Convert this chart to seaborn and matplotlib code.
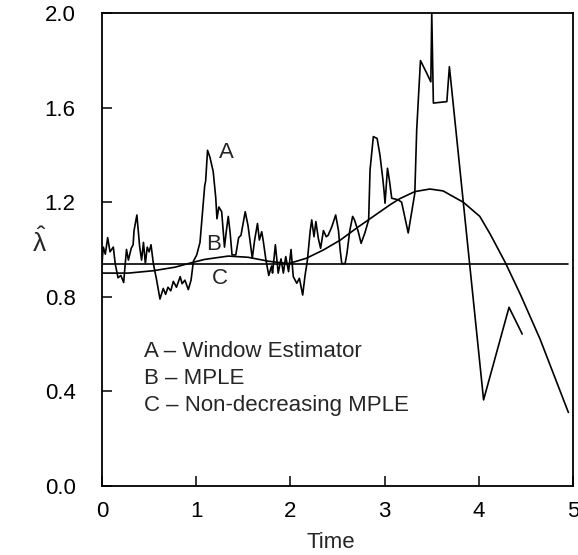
import pandas as pd
import matplotlib
matplotlib.use("Agg")
import matplotlib.pyplot as plt
import seaborn as sns

# A - window estimator
window_time = [
    0.0, 0.005, 0.014, 0.035, 0.06, 0.085, 0.12, 0.14, 0.17, 0.20, 0.23, 0.24,
    0.26, 0.28, 0.31, 0.33, 0.34, 0.37, 0.385, 0.40, 0.42, 0.44, 0.46, 0.48,
    0.50, 0.52, 0.545, 0.58, 0.615, 0.65, 0.675, 0.70, 0.73, 0.757, 0.79, 0.83,
    0.85, 0.88, 0.916, 0.945, 0.97, 1.005, 1.04, 1.075, 1.09, 1.10, 1.12, 1.146,
    1.18, 1.207, 1.22, 1.24, 1.27, 1.30, 1.32, 1.34, 1.36, 1.38, 1.42, 1.45,
    1.475, 1.52, 1.55, 1.57, 1.595, 1.62, 1.65, 1.67, 1.695, 1.71, 1.74, 1.77,
    1.80, 1.81, 1.84, 1.87, 1.90, 1.925, 1.95, 1.98, 2.006, 2.03, 2.067, 2.095,
    2.13, 2.155, 2.18, 2.21, 2.226, 2.25, 2.27, 2.296, 2.32, 2.35, 2.38, 2.40,
    2.44, 2.48, 2.51, 2.527, 2.545, 2.58, 2.60, 2.63, 2.66, 2.68, 2.72, 2.75,
    2.79, 2.83, 2.845, 2.88, 2.92, 2.95, 2.98, 2.994, 3.004, 3.03, 3.05, 3.075,
    3.145, 3.18, 3.25, 3.32, 3.34, 3.38, 3.447, 3.49, 3.50, 3.51, 3.517, 3.66,
    3.687, 4.05, 4.32, 4.46,
]
window_rate = [
    0.93, 0.97, 1.01, 0.98, 1.05, 0.99, 1.01, 0.94, 0.88, 0.89, 0.86, 0.91,
    1.00, 0.955, 1.005, 1.02, 1.08, 1.146, 1.08, 1.01, 0.955, 1.03, 0.94, 1.01,
    0.99, 1.02, 0.94, 0.87, 0.79, 0.835, 0.81, 0.84, 0.825, 0.865, 0.84, 0.885,
    0.855, 0.87, 0.83, 0.87, 0.95, 0.977, 1.03, 1.20, 1.27, 1.29, 1.42, 1.39,
    1.33, 1.22, 1.13, 1.18, 1.16, 1.01, 1.08, 1.14, 1.07, 0.977, 0.977, 1.05,
    1.06, 1.16, 1.10, 1.04, 0.963, 1.04, 1.11, 1.04, 1.075, 1.04, 0.955, 0.89,
    0.93, 0.90, 1.02, 0.90, 0.96, 0.90, 0.97, 0.906, 1.00, 0.885, 0.857, 0.878,
    0.807, 0.89, 0.955, 1.08, 1.125, 1.054, 1.118, 1.047, 1.005, 1.08, 1.054, 1.06,
    1.097, 1.146, 1.08, 1.00, 0.94, 0.94, 0.984, 1.08, 1.14, 1.125, 1.075, 1.026,
    1.07, 1.125, 1.337, 1.478, 1.47, 1.40, 1.30, 1.245, 1.196, 1.344, 1.294, 1.217,
    1.21, 1.20, 1.07, 1.238, 1.506, 1.80, 1.746, 1.71, 2.0, 1.78, 1.62, 1.626,
    1.774, 0.363, 0.755, 0.642,
]

# B - MPLE
mple_time = [
    0.0, 0.28, 0.545, 0.775, 0.95, 1.09, 1.34, 1.55, 1.77, 1.98, 2.17, 2.35,
    2.53, 2.70, 2.88, 3.06, 3.16, 3.32, 3.48, 3.62, 3.835, 4.01, 4.12, 4.22,
    4.28, 4.44, 4.65, 4.95,
]
mple_rate = [
    0.90, 0.90, 0.91, 0.925, 0.944, 0.958, 0.972, 0.967, 0.95, 0.94, 0.963, 0.998,
    1.04, 1.09, 1.14, 1.19, 1.215, 1.245, 1.256, 1.248, 1.20, 1.14, 1.065, 0.99,
    0.945, 0.81, 0.62, 0.31,
]

# C - non-decreasing MPLE
nondec_time = [0.0, 4.95]
nondec_rate = [0.94, 0.94]

x_ticks = [0, 1, 2, 3, 4, 5]
y_ticks = [0.0, 0.4, 0.8, 1.2, 1.6, 2.0]
legend_lines = ["A \u2013 Window Estimator", "B \u2013 MPLE", "C \u2013 Non-decreasing MPLE"]


def main():
    sns.set_style("ticks")
    plt.rcParams["font.family"] = ["Liberation Sans", "DejaVu Sans"]
    plt.rcParams["mathtext.default"] = "regular"

    fig = plt.figure(figsize=(5.78, 5.55), dpi=100)
    ax = fig.add_axes([0.1765, 0.125, 0.815, 0.851])

    series = [
        (window_time, window_rate),
        (mple_time, mple_rate),
        (nondec_time, nondec_rate),
    ]
    for t, r in series:
        df = pd.DataFrame({"time": t, "rate": r})
        sns.lineplot(data=df, x="time", y="rate", ax=ax, color="black",
                     linewidth=1.2, sort=False, estimator=None)

    ax.set_xlim(0, 5)
    ax.set_ylim(0, 2.0)
    ax.set_xticks(x_ticks)
    ax.set_xticklabels([str(v) for v in x_ticks])
    ax.set_yticks(y_ticks)
    ax.set_yticklabels([f"{v:.1f}" for v in y_ticks])
    ax.tick_params(direction="in", length=7, width=1.1, labelsize=16,
                   colors="black")
    ax.tick_params(axis="y", pad=19)
    ax.tick_params(axis="x", pad=11)
    for side in ax.spines.values():
        side.set_visible(True)
        side.set_linewidth(1.3)
        side.set_color("black")

    ax.set_xlabel("Time", fontsize=16, va="center")
    ax.xaxis.set_label_coords(0.486, -0.12)
    ax.set_ylabel(r"$\hat{\lambda}$", fontsize=19, rotation=0, va="center",
                  ha="center")
    ax.yaxis.set_label_coords(-0.132, 0.516)

    # curve labels
    ax.text(1.32, 1.41, "A", fontsize=16, ha="center", va="center")
    ax.text(1.18, 1.02, "B", fontsize=16, ha="center", va="center")
    ax.text(1.25, 0.875, "C", fontsize=16, ha="center", va="center")

    # legend block
    for i, line in enumerate(legend_lines):
        ax.text(0.45, 0.566 - i * 0.114, line, fontsize=16, ha="left", va="center")

    fig.savefig("out.png", dpi=100)


if __name__ == "__main__":
    main()
